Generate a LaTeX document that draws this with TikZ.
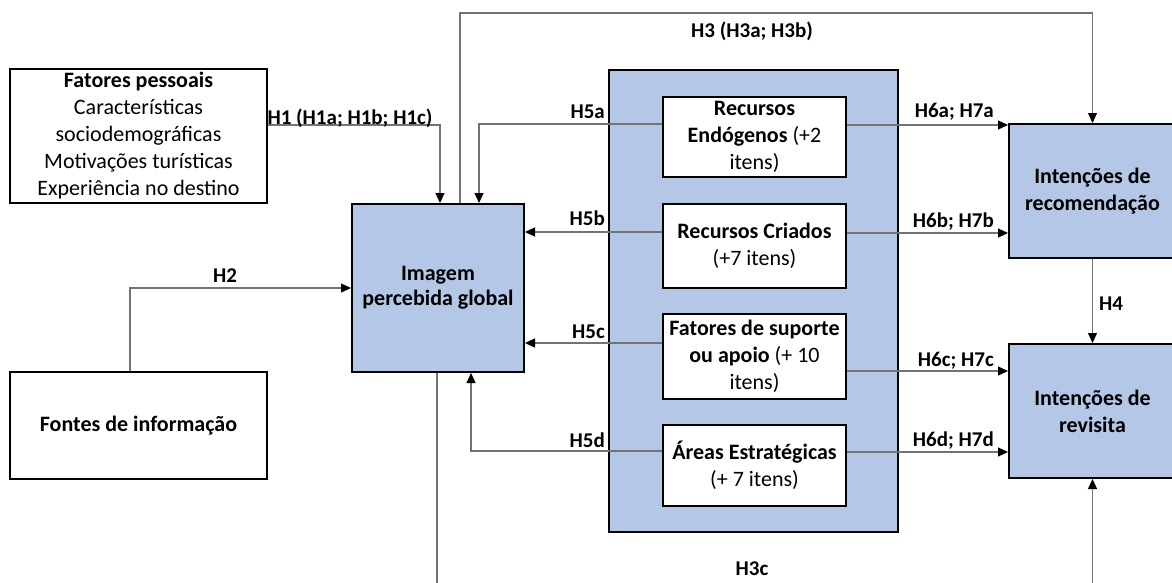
\documentclass[tikz,border=0pt]{standalone}
\usepackage{fontspec}
\setmainfont{Carlito}
\usetikzlibrary{arrows.meta}
\definecolor{boxblue}{RGB}{180,199,231}
\definecolor{linegray}{RGB}{115,115,115}

\begin{document}
\begin{tikzpicture}[x=1pt,y=-1pt,
  box/.style={draw=black, line width=2pt, fill=white, align=center, inner sep=0pt,
              font=\fontsize{22}{27}\selectfont},
  bluebox/.style={box, fill=boxblue},
  conn/.style={draw=linegray, line width=1.2pt,
               -{Triangle[length=10pt,width=9pt,color=black]}},
  hlab/.style={font=\fontsize{21}{24}\selectfont\bfseries, inner sep=0pt}
]
\path[use as bounding box] (0,0) rectangle (1172,582);
\clip (0,0) rectangle (1172,582);

% antecedents
\node[box, minimum width=257pt, minimum height=134pt] (pessoais) at (138.5,136)
  {\textbf{Fatores pessoais}\\Características\\sociodemográficas\\Motivações turísticas\\Experiência no destino};
\node[box, minimum width=257pt, minimum height=107pt] (fontes) at (138.5,425.5)
  {\textbf{Fontes de informação}};

% overall image
\node[bluebox, minimum width=172pt, minimum height=168pt] (imagem) at (438,288)
  {\textbf{Imagem}\\[-2pt]\textbf{percebida global}};

% destination attributes
\node[bluebox, minimum width=289pt, minimum height=462pt] (recursos) at (753.5,301) {};
\node[box, minimum width=183pt, minimum height=80pt] (endog) at (754.5,137)
  {\textbf{Recursos}\\\textbf{Endógenos} (+2\\itens)};
\node[box, minimum width=183pt, minimum height=84pt] (criados) at (754.5,246)
  {\textbf{Recursos Criados}\\(+7 itens)};
\node[box, minimum width=183pt, minimum height=85pt] (suporte) at (754.5,356.5)
  {\textbf{Fatores de suporte}\\\textbf{ou apoio} (+ 10\\itens)};
\node[box, minimum width=183pt, minimum height=81pt] (areas) at (754.5,465.5)
  {\textbf{Áreas Estratégicas}\\(+ 7 itens)};

% behavioural intentions
\node[bluebox, minimum width=167pt, minimum height=134pt] (recom) at (1092.5,191)
  {\textbf{Intenções de}\\\textbf{recomendação}};
\node[bluebox, minimum width=167pt, minimum height=134pt] (revisita) at (1092.5,411)
  {\textbf{Intenções de}\\\textbf{revisita}};

% hypotheses
\draw[conn] ([yshift=11pt]pessoais.east) -| ([xshift=2pt]imagem.north);
\draw[conn] ([xshift=-8.5pt]fontes.north) |- (imagem.west);
\draw[conn] ([xshift=22pt]imagem.north) -- ++(0,-190) -| (recom.north);
\draw[conn] ([xshift=-1pt]imagem.south) -- ++(0,240) -| (revisita.south);
\draw[conn] (recom.south) -- (revisita.north);

\draw[conn] ([yshift=13pt]endog.west) -| ([xshift=41pt]imagem.north);
\draw[conn] ([yshift=14pt]criados.west) -- ([yshift=56pt]imagem.east);
\draw[conn] ([yshift=13.5pt]suporte.west) -- ([yshift=-55pt]imagem.east);
\draw[conn] ([yshift=14.5pt]areas.west) -| ([xshift=33pt]imagem.south);

\draw[conn] ([yshift=12pt]endog.east) -- ([yshift=66pt]recom.west);
\draw[conn] ([yshift=13pt]criados.east) -- ([yshift=-42pt]recom.west);
\draw[conn] ([yshift=-14.5pt]suporte.east) -- ([yshift=40pt]revisita.west);
\draw[conn] ([yshift=13.5pt]areas.east) -- ([yshift=-41pt]revisita.west);

% hypothesis labels
\node[hlab, anchor=base] (lh1) at (350,124) {H1 (H1a; H1b; H1c)};
\node[hlab, anchor=base] (lh2) at (225,282) {H2};
\node[hlab, anchor=base] (lh3) at (752,37) {H3 (H3a; H3b)};
\node[hlab, anchor=base] (lh3c) at (752,575) {H3c};
\node[hlab, anchor=base west] (lh4) at (1099,310) {H4};
\node[hlab, anchor=base east] (lh5a) at (605,118) {H5a};
\node[hlab, anchor=base east] (lh5b) at (605,225) {H5b};
\node[hlab, anchor=base east] (lh5c) at (605,338) {H5c};
\node[hlab, anchor=base east] (lh5d) at (605,447) {H5d};
\node[hlab, anchor=base east] (lh6a) at (994,117) {H6a; H7a};
\node[hlab, anchor=base east] (lh6b) at (994,227) {H6b; H7b};
\node[hlab, anchor=base east] (lh6c) at (994,366) {H6c; H7c};
\node[hlab, anchor=base east] (lh6d) at (994,446) {H6d; H7d};
\end{tikzpicture}
\end{document}
